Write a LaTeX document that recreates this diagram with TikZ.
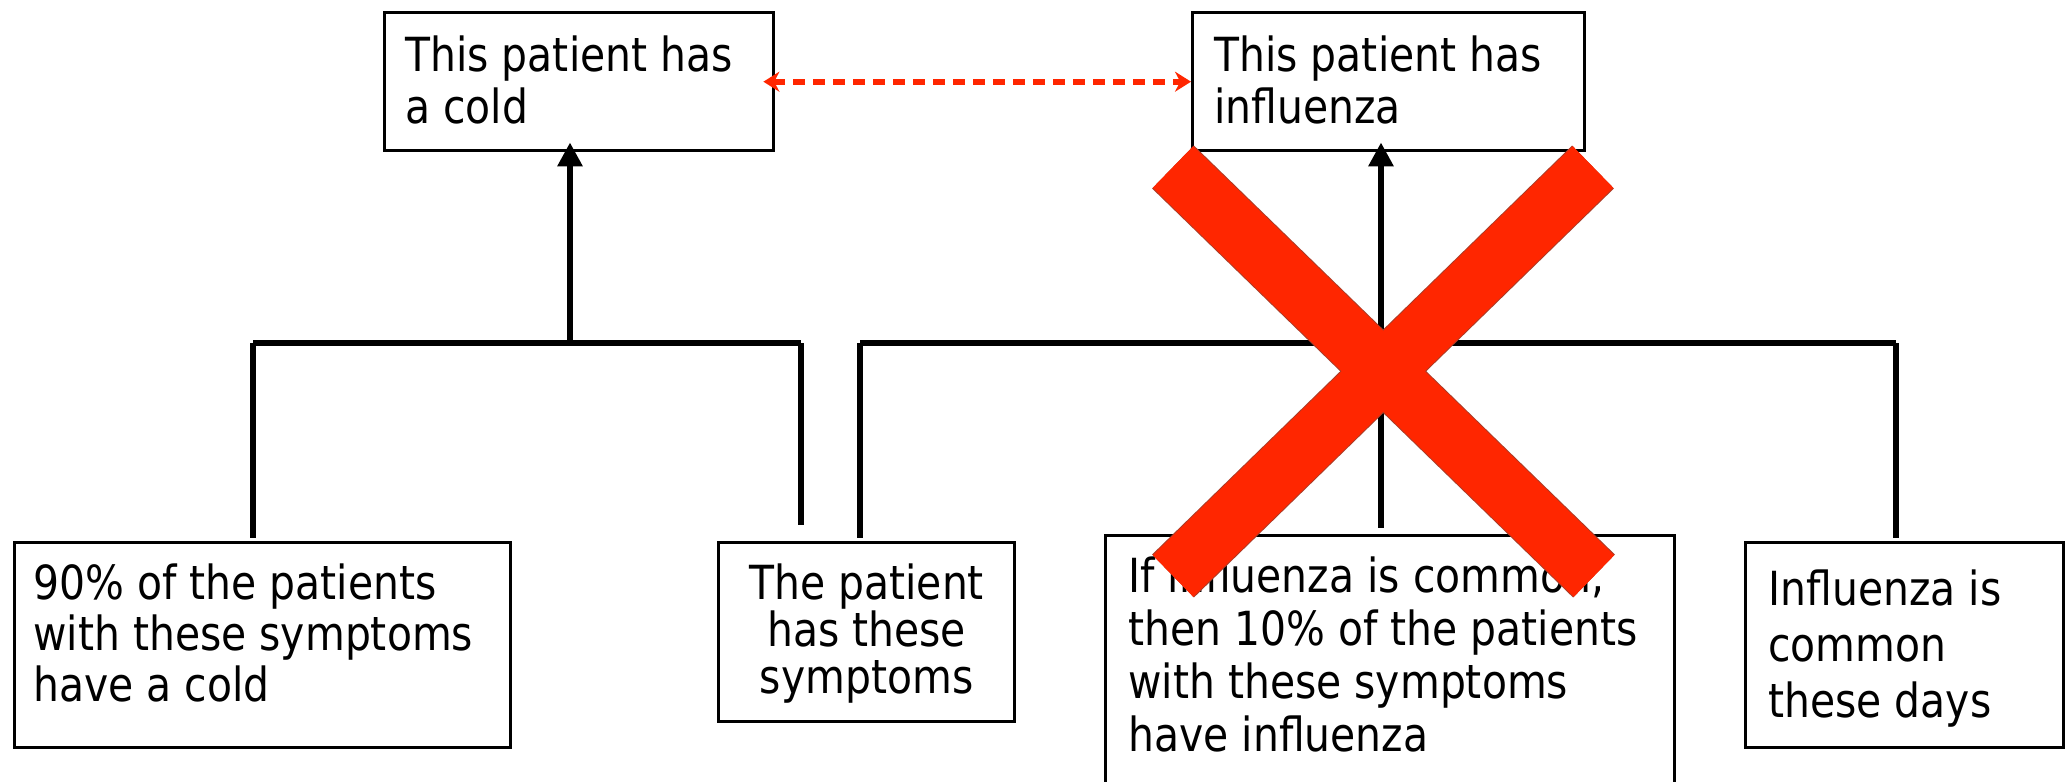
\documentclass[tikz,border=0pt]{standalone}
\usepackage{fontspec}
\setmainfont{DejaVu Sans}[FakeStretch=0.87]
\usetikzlibrary{arrows.meta}
\definecolor{xred}{RGB}{255,38,0}
\definecolor{xedge}{RGB}{170,60,40}
\begin{document}
\begin{tikzpicture}[x=0.5pt,y=-0.5pt,
  box/.style={draw=black,line width=1.7pt,inner sep=0pt,anchor=north west},
  txt/.style={inner sep=0pt,anchor=north west,align=left,font=\fontsize{23.5pt}{26pt}\selectfont},
  ctxt/.style={txt,anchor=north,align=center},
  conn/.style={line width=3.2pt,black},
  drop/.style={conn,shorten >=1.5pt},
  uparr/.style={conn,-{Triangle[length=12pt,width=12pt]},shorten >=-5pt},
  reddash/.style={xred,line width=3pt,dash pattern=on 6pt off 4pt,
    {Stealth[length=8pt,width=10pt]}-{Stealth[length=8pt,width=10pt]},shorten <=-6pt},
  xbar/.style={xred,line width=29pt},
  xrim/.style={xedge,line width=30pt}]
\path[use as bounding box] (0,0) rectangle (2069,782);
\clip (0,0) rectangle (2069,782);

% boxes
\node[box,minimum width=194.5pt,minimum height=69pt] (cold) at (383,11) {};
\node[box,minimum width=196pt,minimum height=69pt] (flu) at (1191,11) {};
\node[box,minimum width=248pt,minimum height=102.5pt] (pct90) at (13,541) {};
\node[box,minimum width=148pt,minimum height=89.5pt] (symp) at (717,541) {};
\node[box,minimum width=284.5pt,minimum height=133pt] (pct10) at (1104,534) {};
\node[box,minimum width=159pt,minimum height=102.5pt] (common) at (1744,541) {};

% texts
\node[txt] (coldt) at ([shift={(22,24)}]cold.north west) {This patient has\\a cold};
\node[txt] (flut) at ([shift={(23,24)}]flu.north west) {This patient has\\influenza};
\node[txt,font=\fontsize{23.5pt}{25.5pt}\selectfont] (pct90t) at ([shift={(20,22)}]pct90.north west) {90\% of the patients\\with these symptoms\\have a cold};
\node[ctxt,font=\fontsize{23.5pt}{23.5pt}\selectfont] (sympt) at ([shift={(0,22)}]symp.north) {The patient\\has these\\symptoms};
\node[txt,font=\fontsize{23.5pt}{26.5pt}\selectfont] (pct10t) at ([shift={(24,22)}]pct10.north west) {If influenza is common,\\then 10\% of the patients\\with these symptoms\\have influenza};
\node[txt,font=\fontsize{23.5pt}{28pt}\selectfont] (commont) at ([shift={(24,28)}]common.north west) {Influenza is\\common\\these days};

% connectors
\coordinate (l1) at (253,343);
\coordinate (jc) at (570,343);
\coordinate (l2) at (801,343);
\coordinate (r1) at (860,343);
\coordinate (jf) at (1381,343);
\coordinate (r3) at (1896,343);
\draw[conn] (l1) -- (l2);
\draw[drop] (l1) -- (pct90.north -| l1);
\draw[drop,shorten >=8pt] (l2) -- (symp.north -| l2);
\draw[uparr] (jc) -- (cold.south -| jc);
\draw[conn] (r1) -- (r3);
\draw[drop] (r1) -- (symp.north -| r1);
\draw[drop,shorten >=3pt] (jf) -- (pct10.north -| jf);
\draw[drop] (r3) -- (common.north -| r3);
\draw[uparr] (jf) -- (flu.south -| jf);

\draw[reddash] (cold.east) -- (flu.west);

% red cross
\coordinate (xa) at (1173,167);
\coordinate (xb) at (1594,576);
\coordinate (xc) at (1593,167);
\coordinate (xd) at (1173,576);
\draw[xrim] (xa) -- (xb) (xc) -- (xd);
\draw[xbar] (xa) -- (xb) (xc) -- (xd);
\end{tikzpicture}
\end{document}
